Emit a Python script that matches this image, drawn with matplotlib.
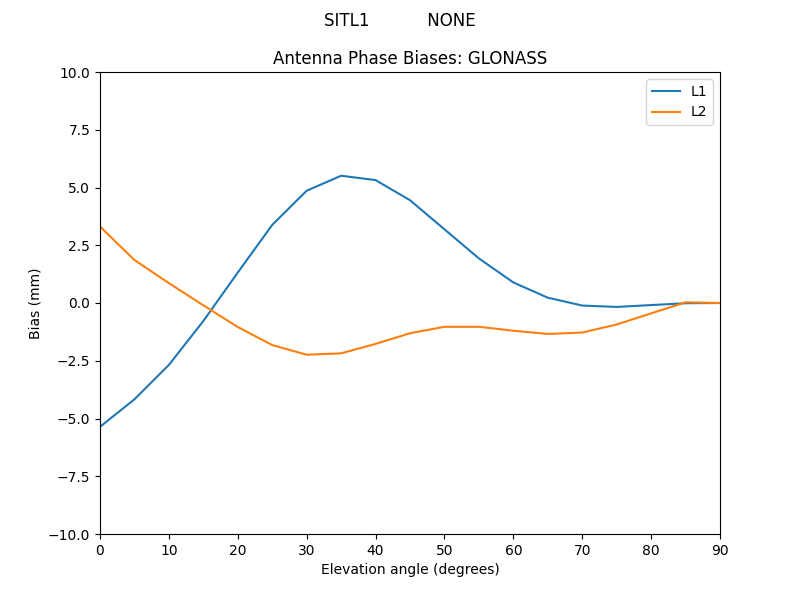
import matplotlib
matplotlib.use("Agg")
import matplotlib.pyplot as plt

elevation = [0, 5, 10, 15, 20, 25, 30, 35, 40, 45, 50, 55, 60, 65, 70, 75, 80, 85, 90]
l1_bias = [-5.36, -4.17, -2.68, -0.78, 1.32, 3.38, 4.86, 5.51, 5.32, 4.45, 3.19, 1.93, 0.89, 0.23, -0.11, -0.17, -0.09, -0.01, 0.0]
l2_bias = [3.31, 1.86, 0.86, -0.1, -1.04, -1.82, -2.24, -2.18, -1.77, -1.31, -1.03, -1.03, -1.2, -1.34, -1.28, -0.93, -0.45, 0.03, 0.0]

fig, ax = plt.subplots(figsize=(8, 6), dpi=100)
ax.plot(elevation, l1_bias, label="L1")
ax.plot(elevation, l2_bias, label="L2")
ax.set_xlim(0, 90)
ax.set_ylim(-10, 10)
ax.set_xlabel("Elevation angle (degrees)")
ax.set_ylabel("Bias (mm)")
ax.set_title("Antenna Phase Biases: GLONASS")
fig.suptitle("SITL1           NONE")
ax.legend(loc="upper right")
fig.savefig("out.png", dpi=100)
